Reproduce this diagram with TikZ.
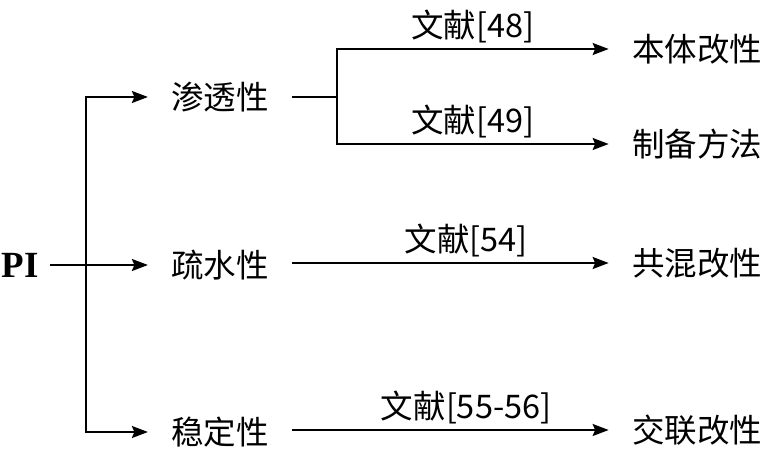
\documentclass[tikz,border=0pt]{standalone}
\usepackage{fontspec}
\setmainfont{Liberation Serif}
\newfontfamily\cjk{Noto Sans CJK SC}
\usepackage{tikz}
\usetikzlibrary{arrows.meta,calc,positioning}
\tikzset{
  line/.style={line width=1.1pt, draw=black},
  edge/.style={line, -{Stealth[length=3.2mm, width=2.4mm, inset=0.5mm]}},
  item/.style={font=\cjk\fontsize{18.5}{22}\selectfont, inner xsep=0.46cm, inner ysep=2pt, anchor=center},
  root/.style={font=\fontsize{21}{24}\selectfont\bfseries, inner xsep=0.22cm},
  ref/.style={font=\cjk\fontsize{18.5}{22}\selectfont, inner sep=3pt}
}

\begin{document}
\begin{tikzpicture}[x=0.02cm,y=-0.02cm]
\path[use as bounding box] (0,0) rectangle (767,450);
\fill[white] (0,0) rectangle (767,450);

\node[root] (pi) at (20,265) {PI};
\node[item] (perm) at (220,97) {渗透性};
\node[item] (hydro) at (220,265) {疏水性};
\node[item] (stab) at (220,432) {稳定性};

\node[item] (body) at (697,49) {本体改性};
\node[item] (prep) at (697,144) {制备方法};
\node[item] (blend) at (697,263) {共混改性};
\node[item] (cross) at (697,430) {交联改性};

% PI branches
\coordinate (trunk) at (86,265);
\draw[edge] (pi) -- (hydro);
\draw[edge] (trunk) |- (perm);
\draw[edge] (trunk) |- (stab);

% references
\coordinate (fork) at (337,97);
\draw[line] (perm.east |- fork) -- (fork);
\draw[edge] (fork) |- node[ref, above, pos=0.75] {文献[48]} (body);
\draw[edge] (fork) |- node[ref, above, pos=0.75] {文献[49]} (prep);
\draw[edge] (hydro.east |- blend) -- node[ref, above, pos=0.55] {文献[54]} (blend);
\draw[edge] (stab.east |- cross) -- node[ref, above, pos=0.55] {文献[55-56]} (cross);
\end{tikzpicture}
\end{document}
